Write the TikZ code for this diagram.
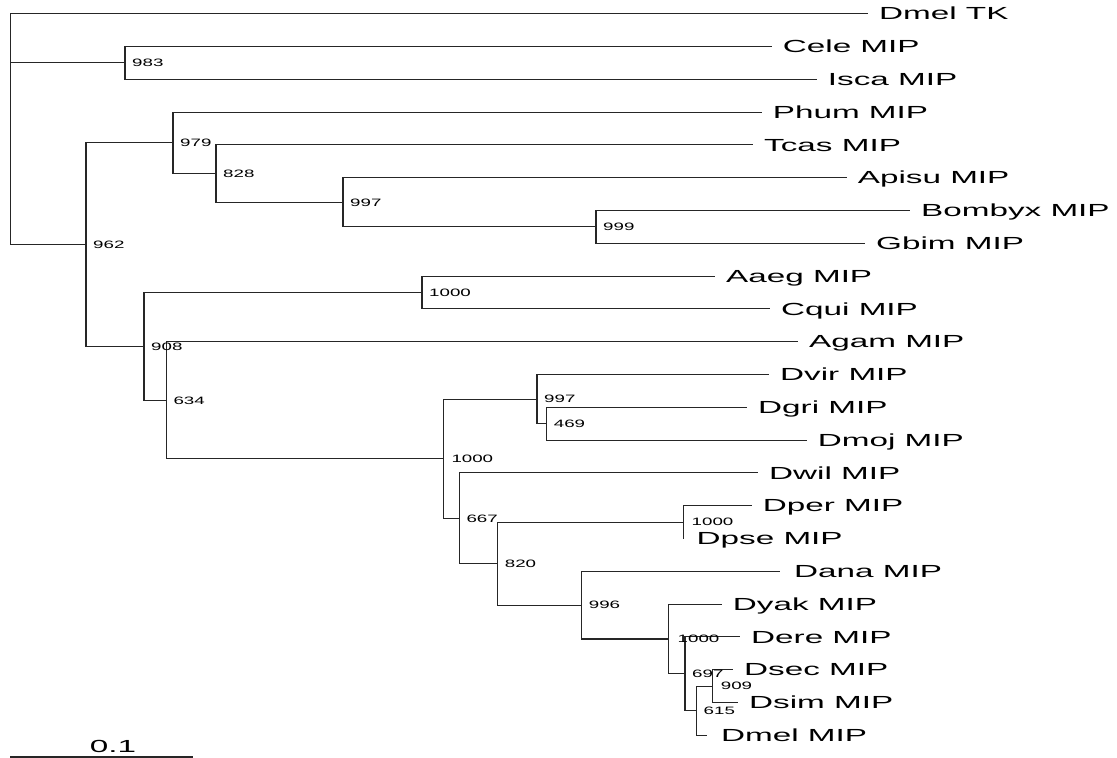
\documentclass[tikz,border=0pt]{standalone}
\usepackage{fontspec}
\newfontfamily\leaffont[FakeStretch=1.9]{Liberation Sans}
\newfontfamily\bsfont[FakeStretch=1.75]{Liberation Sans}
\begin{document}
\begin{tikzpicture}[x=1pt,y=-1pt,
  br/.style={draw=black!85, line width=1.1pt},
  leaf/.style={anchor=base west, inner sep=0pt, font=\leaffont\fontsize{17.5}{17.5}\selectfont},
  bs/.style={anchor=base west, inner sep=0pt, font=\bsfont\fontsize{10.7}{10.7}\selectfont}]
\useasboundingbox (0,0) rectangle (1117,758);
% internal nodes
\coordinate (root) at (10.5,129);
\coordinate (n983) at (125,62.9);
\coordinate (n962) at (86,244.6);
\coordinate (n979) at (173,142.85);
\coordinate (n828) at (216,173.6);
\coordinate (n997a) at (343,202.3);
\coordinate (n999) at (596,226.9);
\coordinate (n908) at (144,346.35);
\coordinate (n1000a) at (422,292.5);
\coordinate (n634) at (166.3,400.2);
\coordinate (n1000b) at (443.3,458.7);
\coordinate (n997b) at (537,399.1);
\coordinate (n469) at (546.7,423.7);
\coordinate (n667) at (459.3,518.25);
\coordinate (n820) at (497.7,563.6);
\coordinate (n1000c) at (683.5,522.1);
\coordinate (n996) at (581.7,605.1);
\coordinate (n1000d) at (668.5,638.95);
\coordinate (n697) at (685,673.8);
\coordinate (n615) at (696.5,710.7);
\coordinate (n909) at (712.7,686.1);
% tips
\coordinate (tk) at (868,13.7);
\coordinate (cele) at (771.7,46.5);
\coordinate (isca) at (816.7,79.3);
\coordinate (phum) at (761.7,112.1);
\coordinate (tcas) at (753,144.9);
\coordinate (apisu) at (846.7,177.7);
\coordinate (bombyx) at (910,210.5);
\coordinate (gbim) at (865,243.3);
\coordinate (aaeg) at (715,276.1);
\coordinate (cqui) at (770,308.9);
\coordinate (agam) at (798,341.7);
\coordinate (dvir) at (769,374.5);
\coordinate (dgri) at (747,407.3);
\coordinate (dmoj) at (806.7,440.1);
\coordinate (dwil) at (758,472.9);
\coordinate (dper) at (751.7,505.7);
\coordinate (dpse) at (683.5,538.5);
\coordinate (dana) at (780,571.3);
\coordinate (dyak) at (721.7,604.1);
\coordinate (dere) at (740,636.9);
\coordinate (dsec) at (733,669.7);
\coordinate (dsim) at (738,702.5);
\coordinate (dmel) at (707,735.3);
% branches
\draw[br] (root) |- (tk);
\draw[br] (root) |- (n983);
\draw[br] (root) |- (n962);
\draw[br] (n983) |- (cele);
\draw[br] (n983) |- (isca);
\draw[br] (n962) |- (n979);
\draw[br] (n962) |- (n908);
\draw[br] (n979) |- (phum);
\draw[br] (n979) |- (n828);
\draw[br] (n828) |- (tcas);
\draw[br] (n828) |- (n997a);
\draw[br] (n997a) |- (apisu);
\draw[br] (n997a) |- (n999);
\draw[br] (n999) |- (bombyx);
\draw[br] (n999) |- (gbim);
\draw[br] (n908) |- (n1000a);
\draw[br] (n908) |- (n634);
\draw[br] (n1000a) |- (aaeg);
\draw[br] (n1000a) |- (cqui);
\draw[br] (n634) |- (agam);
\draw[br] (n634) |- (n1000b);
\draw[br] (n1000b) |- (n997b);
\draw[br] (n1000b) |- (n667);
\draw[br] (n997b) |- (dvir);
\draw[br] (n997b) |- (n469);
\draw[br] (n469) |- (dgri);
\draw[br] (n469) |- (dmoj);
\draw[br] (n667) |- (dwil);
\draw[br] (n667) |- (n820);
\draw[br] (n820) |- (n1000c);
\draw[br] (n820) |- (n996);
\draw[br] (n1000c) |- (dper);
\draw[br] (n1000c) |- (dpse);
\draw[br] (n996) |- (dana);
\draw[br] (n996) |- (n1000d);
\draw[br] (n1000d) |- (dyak);
\draw[br] (n1000d) |- (n697);
\draw[br] (n697) |- (dere);
\draw[br] (n697) |- (n615);
\draw[br] (n615) |- (n909);
\draw[br] (n615) |- (dmel);
\draw[br] (n909) |- (dsec);
\draw[br] (n909) |- (dsim);
% leaf labels
\node[leaf] (Ltk) at ([xshift=11pt,yshift=-6.2pt]tk) {Dmel TK};
\node[leaf] (Lcele) at ([xshift=11pt,yshift=-6.2pt]cele) {Cele MIP};
\node[leaf] (Lisca) at ([xshift=11pt,yshift=-6.2pt]isca) {Isca MIP};
\node[leaf] (Lphum) at ([xshift=11pt,yshift=-6.2pt]phum) {Phum MIP};
\node[leaf] (Ltcas) at ([xshift=11pt,yshift=-6.2pt]tcas) {Tcas MIP};
\node[leaf] (Lapisu) at ([xshift=11pt,yshift=-6.2pt]apisu) {Apisu MIP};
\node[leaf] (Lbombyx) at ([xshift=11pt,yshift=-6.2pt]bombyx) {Bombyx MIP};
\node[leaf] (Lgbim) at ([xshift=11pt,yshift=-6.2pt]gbim) {Gbim MIP};
\node[leaf] (Laaeg) at ([xshift=11pt,yshift=-6.2pt]aaeg) {Aaeg MIP};
\node[leaf] (Lcqui) at ([xshift=11pt,yshift=-6.2pt]cqui) {Cqui MIP};
\node[leaf] (Lagam) at ([xshift=11pt,yshift=-6.2pt]agam) {Agam MIP};
\node[leaf] (Ldvir) at ([xshift=11pt,yshift=-6.2pt]dvir) {Dvir MIP};
\node[leaf] (Ldgri) at ([xshift=11pt,yshift=-6.2pt]dgri) {Dgri MIP};
\node[leaf] (Ldmoj) at ([xshift=11pt,yshift=-6.2pt]dmoj) {Dmoj MIP};
\node[leaf] (Ldwil) at ([xshift=11pt,yshift=-6.2pt]dwil) {Dwil MIP};
\node[leaf] (Ldper) at ([xshift=11pt,yshift=-6.2pt]dper) {Dper MIP};
\node[leaf] (Ldpse) at ([xshift=13pt,yshift=-6.2pt]dpse) {Dpse MIP};
\node[leaf] (Ldana) at ([xshift=14pt,yshift=-6.2pt]dana) {Dana MIP};
\node[leaf] (Ldyak) at ([xshift=11pt,yshift=-6.2pt]dyak) {Dyak MIP};
\node[leaf] (Ldere) at ([xshift=11pt,yshift=-6.2pt]dere) {Dere MIP};
\node[leaf] (Ldsec) at ([xshift=11pt,yshift=-6.2pt]dsec) {Dsec MIP};
\node[leaf] (Ldsim) at ([xshift=11pt,yshift=-6.2pt]dsim) {Dsim MIP};
\node[leaf] (Ldmel) at ([xshift=14pt,yshift=-6.2pt]dmel) {Dmel MIP};
% bootstrap labels
\node[bs] (B983) at ([xshift=7pt,yshift=-3.8pt]n983) {983};
\node[bs] (B962) at ([xshift=7pt,yshift=-3.8pt]n962) {962};
\node[bs] (B979) at ([xshift=7pt,yshift=-3.8pt]n979) {979};
\node[bs] (B828) at ([xshift=7pt,yshift=-3.8pt]n828) {828};
\node[bs] (B997a) at ([xshift=7pt,yshift=-3.8pt]n997a) {997};
\node[bs] (B999) at ([xshift=7pt,yshift=-3.8pt]n999) {999};
\node[bs] (B908) at ([xshift=7pt,yshift=-3.8pt]n908) {908};
\node[bs] (B1000a) at ([xshift=7pt,yshift=-3.8pt]n1000a) {1000};
\node[bs] (B634) at ([xshift=7pt,yshift=-3.8pt]n634) {634};
\node[bs] (B1000b) at ([xshift=8pt,yshift=-3.8pt]n1000b) {1000};
\node[bs] (B997b) at ([xshift=7pt,yshift=-3.8pt]n997b) {997};
\node[bs] (B469) at ([xshift=7pt,yshift=-3.8pt]n469) {469};
\node[bs] (B667) at ([xshift=7pt,yshift=-3.8pt]n667) {667};
\node[bs] (B820) at ([xshift=7pt,yshift=-3.8pt]n820) {820};
\node[bs] (B1000c) at ([xshift=8pt,yshift=-3.8pt]n1000c) {1000};
\node[bs] (B996) at ([xshift=7pt,yshift=-3.8pt]n996) {996};
\node[bs] (B1000d) at ([xshift=9pt,yshift=-3.8pt]n1000d) {1000};
\node[bs] (B697) at ([xshift=7pt,yshift=-3.8pt]n697) {697};
\node[bs] (B615) at ([xshift=7pt,yshift=-3.8pt]n615) {615};
\node[bs] (B909) at ([xshift=8pt,yshift=-3.8pt]n909) {909};
% scale bar
\coordinate (sb1) at (10,757);
\coordinate (sb2) at (193,757);
\draw[br] (sb1) -- (sb2);
\node[leaf, anchor=base] (sblab) at (113,752) {0.1};
\end{tikzpicture}
\end{document}
